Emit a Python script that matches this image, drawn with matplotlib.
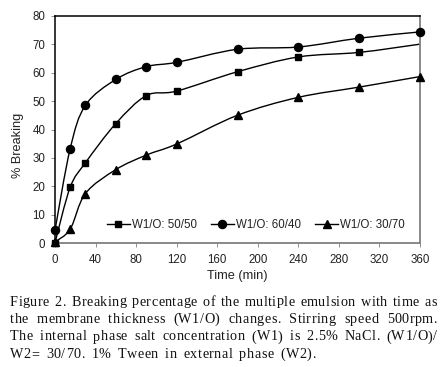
import matplotlib
matplotlib.use("Agg")
import matplotlib.pyplot as plt
from matplotlib.path import Path
from matplotlib.patches import PathPatch
from matplotlib.lines import Line2D
import numpy as np

# ---- data ----
time_min = [0, 15, 30, 60, 90, 120, 180, 240, 300, 360]
s_50_50 = [0.2, 19.7, 28.3, 42.1, 51.9, 53.5, 60.3, 65.5, 67.1, 70.0]
s_60_40 = [4.6, 33.3, 48.5, 57.6, 62.1, 63.6, 68.2, 69.0, 72.1, 74.3]
s_30_70 = [0.5, 5.0, 17.5, 25.9, 31.0, 34.9, 45.0, 51.3, 54.9, 58.6]
labels = ["W1/O: 50/50", "W1/O: 60/40", "W1/O: 30/70"]
markers = ["s", "o", "^"]
xticks = list(range(0, 361, 40))
yticks = list(range(0, 81, 10))
caption_lines = [
    "Figure 2. Breaking percentage of the multiple emulsion with time as",
    "the membrane thickness (W1/O) changes. Stirring speed 500rpm.",
    "The internal phase salt concentration (W1) is 2.5% NaCl. (W1/O)/",
    "W2= 30/70. 1% Tween in external phase (W2).",
]

W, H = 444, 367
fig = plt.figure(figsize=(W / 100, H / 100), dpi=100)
fig.patch.set_facecolor("white")
L, R, T, B = 55, 420, 15.7, 243.3
ax = fig.add_axes([L / W, 1 - B / H, (R - L) / W, (B - T) / H])
ax.set_xlim(0, 360)
ax.set_ylim(0, 80)

sx = (R - L) / 360.0
sy = (B - T) / 80.0


def smooth_path(xs, ys, t=1 / 6.0):
    P = np.column_stack([np.asarray(xs, float) * sx, np.asarray(ys, float) * sy])
    n = len(P)
    verts = [P[0]]
    codes = [Path.MOVETO]
    for i in range(n - 1):
        p0 = P[i - 1] if i > 0 else P[i]
        p1 = P[i]
        p2 = P[i + 1]
        p3 = P[i + 2] if i + 2 < n else P[i + 1]
        c1 = p1 + (p2 - p0) * t
        c2 = p2 - (p3 - p1) * t
        verts += [c1, c2, p2]
        codes += [Path.CURVE4] * 3
    V = np.array(verts)
    V[:, 0] /= sx
    V[:, 1] /= sy
    return Path(V, codes)


series = [s_50_50, s_60_40, s_30_70]
msizes = [4.6, 5.8, 5.4]
for ys, m, ms in zip(series, markers, msizes):
    ax.add_patch(PathPatch(smooth_path(time_min, ys), fill=False,
                           edgecolor="black", lw=1.0, clip_on=False, zorder=2))
    if m == "s":
        ax.plot(time_min[:-1], ys[:-1], linestyle="none", marker=m, ms=ms,
                color="black", clip_on=False, zorder=3)
    else:
        ax.plot(time_min, ys, linestyle="none", marker=m, ms=ms,
                color="black", clip_on=False, zorder=3)

# spines
for side in ["left", "top"]:
    ax.spines[side].set_color("black")
    ax.spines[side].set_linewidth(1.1)
for side in ["right", "bottom"]:
    ax.spines[side].set_color("#808080")
    ax.spines[side].set_linewidth(1.3)

ax.set_xticks(xticks)
ax.set_yticks(yticks)
ax.tick_params(axis="both", direction="out", length=3, width=0.7,
               color="#909090", labelsize=8.3, labelcolor="#222222",
               labelfontfamily="Liberation Sans")
ax.tick_params(axis="x", pad=5)
ax.tick_params(axis="y", pad=4)

ax.set_xlabel("Time (min)", fontsize=9.2, family="Liberation Sans",
              color="#222222")
ax.xaxis.label.set_va("center")
ax.xaxis.set_label_coords((237.5 - L) / (R - L), 1 - (276.5 - T) / (B - T))
fig.text(18 / W, 1 - 145 / H, "% Breaking", rotation=90, ha="center",
         va="center", fontsize=9.2, family="Liberation Sans", color="#222222")

handles = [Line2D([], [], color="black", lw=1.0, marker=m, ms=ms)
           for m, ms in zip(markers, msizes)]
leg = ax.legend(handles, labels, ncol=3, frameon=False, loc="center",
                bbox_to_anchor=((256 - L) / (R - L), 1 - (225 - T) / (B - T)),
                prop={"family": "Liberation Sans", "size": 8.3},
                handlelength=2.0, handletextpad=0.2, columnspacing=1.2,
                borderpad=0, borderaxespad=0)
for txt in leg.get_texts():
    txt.set_color("#222222")

# caption (justified, with slight letter spacing)
renderer = fig.canvas.get_renderer()
cap_left, cap_right = 10, 437
baselines = [305.5, 323.2, 340.5, 358]
fs = 10.2
MEAS = 100.0
letter_extra = 0.45


def text_w(s):
    t = fig.text(0, 0, s, fontsize=MEAS, family="Liberation Serif")
    w = t.get_window_extent(renderer).width
    t.remove()
    return w * fs / MEAS


base = text_w("nn")
cw_cache = {}


def char_w(c):
    if c not in cw_cache:
        cw_cache[c] = text_w("n" + c + "n") - base
    return cw_cache[c]


gaps = []
for li, line in enumerate(caption_lines):
    nat = sum(char_w(c) + letter_extra for c in line)
    nsp = line.count(" ")
    if li < len(caption_lines) - 1:
        gap = (cap_right - cap_left - nat + letter_extra) / nsp
        gaps.append(gap)
    else:
        gap = float(np.mean(gaps))
    x = cap_left
    y = 1 - baselines[li] / H
    for c in line:
        if c == " ":
            x += char_w(c) + letter_extra + gap
        else:
            fig.text(x / W, y, c, va="baseline", ha="left", color="#111111",
                     fontsize=fs, family="Liberation Serif")
            x += char_w(c) + letter_extra

fig.savefig("out.png", dpi=100, facecolor="white")
